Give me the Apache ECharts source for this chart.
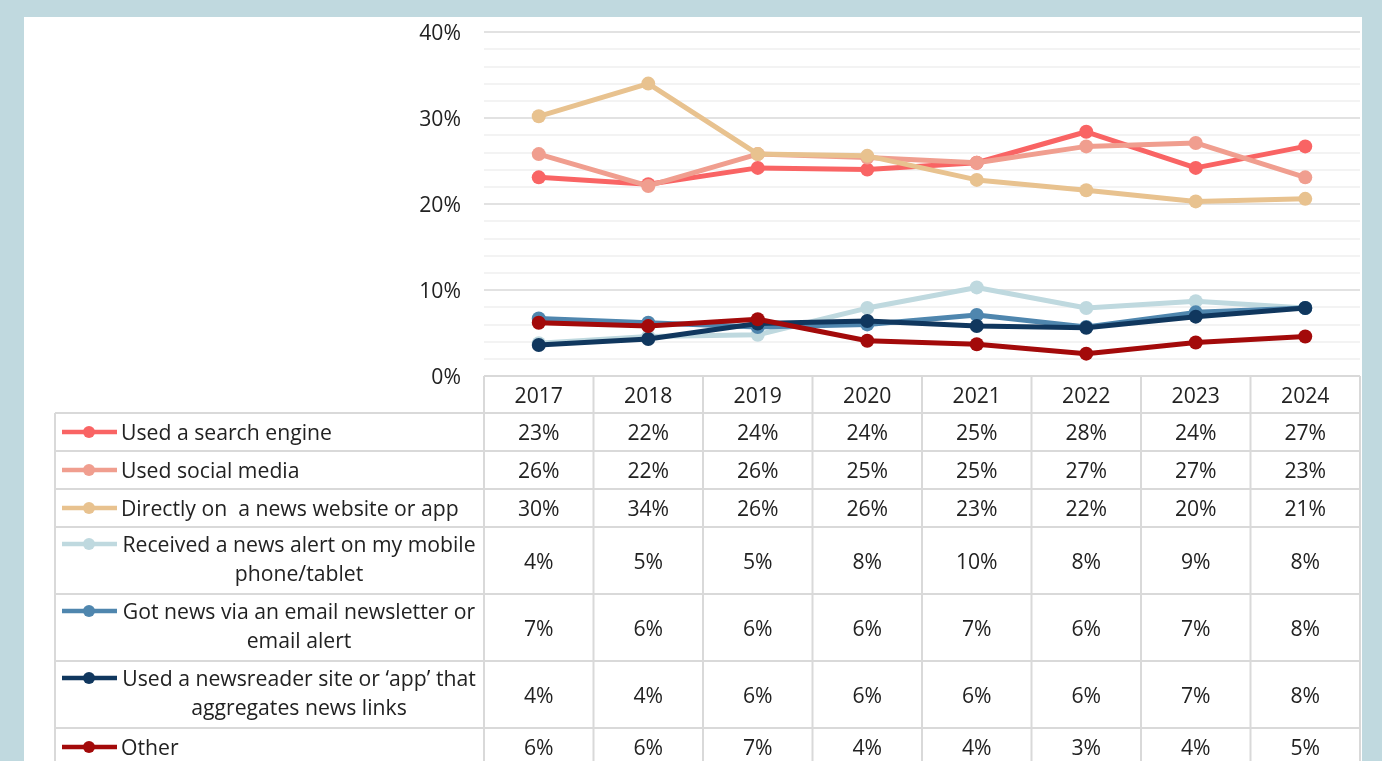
<!DOCTYPE html>
<html>
<head>
<meta charset="utf-8">
<style>
html,body{margin:0;padding:0;background:#c0d9df;}
#c{width:1382px;height:761px;}
</style>
<script src="https://cdn.jsdelivr.net/npm/echarts@6/dist/echarts.min.js"></script>
</head>
<body>
<div id="c"></div>
<script>
const years = ['2017','2018','2019','2020','2021','2022','2023','2024'];
const seriesNames = [
  'Used a search engine',
  'Used social media',
  'Directly on  a news website or app',
  'Received a news alert on my mobile phone/tablet',
  'Got news via an email newsletter or email alert',
  'Used a newsreader site or \u2018app\u2019 that aggregates news links',
  'Other'
];
const nameLines = [
  ['Used a search engine'],
  ['Used social media'],
  ['Directly on  a news website or app'],
  ['Received a news alert on my mobile', 'phone/tablet'],
  ['Got news via an email newsletter or', 'email alert'],
  ['Used a newsreader site or \u2018app\u2019 that', 'aggregates news links'],
  ['Other']
];
const searchEngine = [23.1, 22.3, 24.2, 24.0, 24.8, 28.4, 24.2, 26.7];
const socialMedia  = [25.8, 22.1, 25.8, 25.4, 24.8, 26.7, 27.1, 23.1];
const directly     = [30.2, 34.0, 25.8, 25.6, 22.8, 21.6, 20.3, 20.6];
const newsAlert    = [3.8, 4.6, 4.8, 7.9, 10.3, 7.9, 8.7, 7.9];
const emailNews    = [6.7, 6.2, 5.7, 6.0, 7.1, 5.7, 7.4, 7.9];
const newsreader   = [3.6, 4.3, 6.1, 6.4, 5.8, 5.6, 6.9, 7.9];
const other        = [6.2, 5.8, 6.6, 4.1, 3.7, 2.6, 3.9, 4.6];
const allData = [searchEngine, socialMedia, directly, newsAlert, emailNews, newsreader, other];
const colors = ['#f96464', '#f09e8f', '#e8c28f', '#bfd9df', '#4f86ae', '#10375e', '#a30a0a'];

const FONT = '"Open Sans", "Noto Sans", sans-serif';
const FS = 21.2;
const TY = 2; // text baseline nudge
const GRID_L = 484, GRID_R = 22, GRID_T = 32, GRID_B = 385;
const W = 1382;
const plotW = W - GRID_L - GRID_R;
const band = plotW / years.length;
const tableLeft = 55, tableRight = W - GRID_R;
const headerTop = 376, headerBottom = 413;
const rowHeights = [38, 38, 38, 67, 67, 67, 38];
const border = '#d9d9d9';
const txt = '#222222';

const chart = echarts.init(document.getElementById('c'), null, {renderer: 'canvas'});

const graphics = [];
graphics.push({type: 'rect', z: -10, silent: true,
  shape: {x: 24, y: 17, width: 1338, height: 761 - 17},
  style: {fill: '#ffffff'}});

years.forEach((y, i) => {
  graphics.push({type: 'text', z: 5, style: {
    x: GRID_L + band * (i + 0.5), y: (headerTop + headerBottom) / 2 + TY,
    text: y, fill: txt, font: FS + 'px ' + FONT, textAlign: 'center', textVerticalAlign: 'middle'}});
});

let yTop = headerBottom;
const rowTops = [];
rowHeights.forEach(h => { rowTops.push(yTop); yTop += h; });
const tableBottom = yTop;

graphics.push({type: 'line', z: 4, shape: {x1: GRID_L, y1: headerTop, x2: tableRight, y2: headerTop}, style: {stroke: border, lineWidth: 2}});
rowTops.concat([tableBottom]).forEach(yy => {
  graphics.push({type: 'line', z: 4, shape: {x1: tableLeft, y1: yy, x2: tableRight, y2: yy}, style: {stroke: border, lineWidth: 2}});
});
for (let i = 0; i <= years.length; i++) {
  const xx = GRID_L + band * i;
  graphics.push({type: 'line', z: 4, shape: {x1: xx, y1: headerTop, x2: xx, y2: tableBottom}, style: {stroke: border, lineWidth: 2}});
}
graphics.push({type: 'line', z: 4, shape: {x1: tableLeft, y1: headerBottom, x2: tableLeft, y2: tableBottom}, style: {stroke: border, lineWidth: 2}});

nameLines.forEach((lines, r) => {
  const top = rowTops[r], h = rowHeights[r];
  const mid = top + h / 2;
  const firstY = lines.length > 1 ? top + 17 : mid;
  graphics.push({type: 'line', z: 6, shape: {x1: 62, y1: firstY, x2: 117, y2: firstY}, style: {stroke: colors[r], lineWidth: 4.5}});
  graphics.push({type: 'circle', z: 7, shape: {cx: 89, cy: firstY, r: 6}, style: {fill: colors[r]}});
  if (lines.length === 1) {
    graphics.push({type: 'text', z: 6, style: {x: 121, y: firstY + TY, text: lines[0], fill: txt,
      font: FS + 'px ' + FONT, textAlign: 'left', textVerticalAlign: 'middle'}});
  } else {
    lines.forEach((ln, k) => {
      graphics.push({type: 'text', z: 6, style: {x: 299, y: firstY + TY + k * 29, text: ln, fill: txt,
        font: FS + 'px ' + FONT, textAlign: 'center', textVerticalAlign: 'middle'}});
    });
  }
  allData[r].forEach((v, i) => {
    graphics.push({type: 'text', z: 6, style: {
      x: GRID_L + band * (i + 0.5), y: mid + TY, text: Math.round(v) + '%', fill: txt,
      font: FS + 'px ' + FONT, textAlign: 'center', textVerticalAlign: 'middle'}});
  });
});

const option = {
  backgroundColor: '#c0d9df',
  animation: false,
  grid: {left: GRID_L, right: GRID_R, top: GRID_T, bottom: GRID_B, containLabel: false},
  xAxis: {
    type: 'category', data: years, boundaryGap: true,
    axisLine: {show: false}, axisTick: {show: false}, axisLabel: {show: false}, splitLine: {show: false}
  },
  yAxis: {
    type: 'value', min: 0, max: 40, interval: 10,
    axisLine: {show: false}, axisTick: {show: false},
    axisLabel: {formatter: v => '{a|' + v + '%}', margin: 23,
      rich: {a: {color: txt, fontSize: FS, fontFamily: FONT, padding: [2 * TY, 0, 0, 0]}}},
    splitLine: {show: true, lineStyle: {color: '#d9d9d9', width: 1.5}},
    minorTick: {show: false, splitNumber: 5},
    minorSplitLine: {show: true, lineStyle: {color: '#f0f0f0', width: 1.5}}
  },
  graphic: graphics,
  series: seriesNames.map((n, i) => ({
    name: n, type: 'line', data: allData[i],
    symbol: 'circle', symbolSize: 14,
    lineStyle: {color: colors[i], width: 5},
    itemStyle: {color: colors[i]},
    z: 10 + i
  }))
};
chart.setOption(option);
</script>
</body>
</html>
